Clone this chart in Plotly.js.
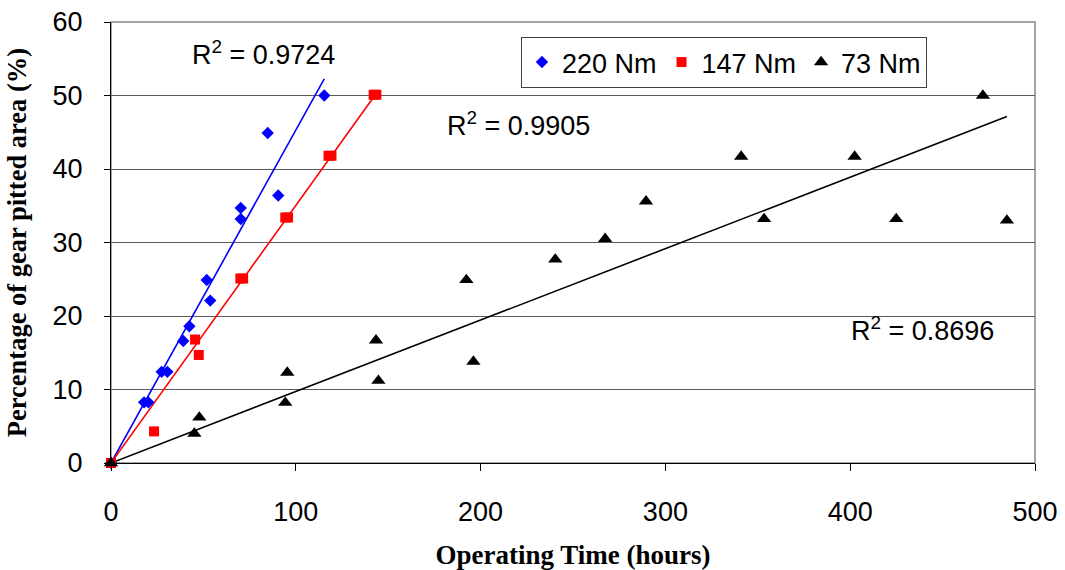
<!DOCTYPE html>
<html><head><meta charset="utf-8">
<script src="https://cdn.plot.ly/plotly-3.0.1.min.js"></script>
<style>html,body{margin:0;padding:0;background:#fff}#chart{width:1065px;height:570px}</style>
</head><body><div id="chart"></div>
<script>
// ---- data ----
const seriesNames = ['220 Nm', '147 Nm', '73 Nm'];
const hours220 = [0, 17.9, 20.2, 27.4, 30.5, 39.1, 42.4, 51.8, 53.7, 70.2, 70.2, 84.8, 90.5, 115.4];
const pct220   = [0, 8.25, 8.25, 12.4, 12.4, 16.6, 18.6, 24.9, 22.1, 34.7, 33.2, 44.9, 36.4, 50.0];
const hours147 = [0, 23.3, 45.5, 47.5, 70.0, 71.5, 94.3, 95.8, 117.7, 119.3, 142.1, 143.6];
const pct147   = [0, 4.3, 16.8, 14.7, 25.1, 25.1, 33.4, 33.4, 41.8, 41.8, 50.1, 50.1];
const hours73  = [0, 45.1, 47.8, 94.3, 95.4, 143.4, 144.7, 192.3, 196.1, 240.4, 267.4, 289.5, 341.0, 353.4, 402.4, 424.9, 471.8, 484.8];
const pct73    = [0, 4.0, 6.2, 8.2, 12.3, 16.7, 11.2, 24.9, 13.8, 27.7, 30.5, 35.6, 41.7, 33.2, 41.7, 33.2, 50.0, 33.0];
const r2Labels = ['0.9724', '0.9905', '0.8696'];
const xTicks = [0, 100, 200, 300, 400, 500];
const yTicks = [0, 10, 20, 30, 40, 50, 60];
const xTitle = 'Operating Time (hours)';
const yTitle = 'Percentage of gear pitted area (%)';

// ---- styling ----
const colors = ['#0000FF', '#FF0000', '#000000'];
const symbols = ['diamond', 'square', 'triangle-up'];
const sizes = [9.5, 10, 12.5];
const sans = 'Liberation Sans, Arial, sans-serif';
const serif = 'Liberation Serif, Times New Roman, serif';

const xs = [hours220, hours147, hours73];
const ys = [pct220, pct147, pct73];

// linear trend through the origin (least squares)
function slopeThroughOrigin(x, y) {
  let sxy = 0, sxx = 0;
  for (let i = 0; i < x.length; i++) { sxy += x[i] * y[i]; sxx += x[i] * x[i]; }
  return sxy / sxx;
}

const traces = [];
for (let s = 0; s < 3; s++) {
  const k = slopeThroughOrigin(xs[s], ys[s]);
  const xmin = Math.min(...xs[s]), xmax = Math.max(...xs[s]);
  traces.push({
    x: [xmin, xmax], y: [k * xmin, k * xmax],
    mode: 'lines', line: {color: colors[s], width: 1.6},
    showlegend: false, hoverinfo: 'skip', cliponaxis: false
  });
}
for (let s = 0; s < 3; s++) {
  traces.push({
    x: xs[s], y: ys[s], name: seriesNames[s],
    mode: 'markers', cliponaxis: false,
    marker: {symbol: symbols[s], color: colors[s], size: sizes[s]}
  });
}

const annPos = [
  {x: 42.7, y: 55.8},
  {x: 180.7, y: 46.1},
  {x: 399.4, y: 18.2}
];
const annotations = r2Labels.map((t, i) => ({
  x: annPos[i].x, y: annPos[i].y, xref: 'x', yref: 'y',
  xanchor: 'left', yanchor: 'middle', showarrow: false,
  text: 'R<sup>2</sup> = ' + t,
  font: {family: sans, size: 27, color: '#000'}
}));

const layout = {
  width: 1065, height: 570,
  margin: {l: 111, r: 30, t: 22, b: 107, pad: 0},
  paper_bgcolor: '#fff', plot_bgcolor: '#fff',
  font: {family: sans, size: 27, color: '#000'},
  showlegend: true,
  legend: {
    orientation: 'h', x: 0.4437, y: 0.966, xanchor: 'left', yanchor: 'top',
    bordercolor: '#404040', borderwidth: 1, bgcolor: '#fff',
    font: {family: sans, size: 27, color: '#000'},
    traceorder: 'normal', itemwidth: 30
  },
  xaxis: {
    range: [0, 500], tickvals: xTicks, ticktext: xTicks.map(String),
    showgrid: false, zeroline: false,
    showline: true, linecolor: '#000', linewidth: 1,
    ticks: 'outside', ticklen: 7, tickcolor: '#000', tickwidth: 1,
    ticklabelstandoff: 18,
    tickfont: {family: sans, size: 27, color: '#000'},
    title: {text: xTitle, font: {family: serif, size: 27, color: '#000', weight: 'bold'}, standoff: 18}
  },
  yaxis: {
    range: [0, 60], tickvals: yTicks, ticktext: yTicks.map(String),
    showgrid: true, gridcolor: '#5c5c5c', gridwidth: 1, zeroline: false,
    showline: true, linecolor: '#000', linewidth: 1,
    ticks: 'outside', ticklen: 6, tickcolor: '#000', tickwidth: 1,
    ticklabelstandoff: 16,
    tickfont: {family: sans, size: 27, color: '#000'},
    title: {text: yTitle, font: {family: serif, size: 26.5, color: '#000', weight: 'bold'}, standoff: 18}
  },
  shapes: [{
    type: 'rect', xref: 'paper', yref: 'paper', x0: 0, x1: 1, y0: 0, y1: 1,
    line: {color: '#888888', width: 1.5}, layer: 'below'
  }],
  annotations: annotations
};

Plotly.newPlot('chart', traces, layout, {displayModeBar: false, staticPlot: true});
</script>
</body></html>
